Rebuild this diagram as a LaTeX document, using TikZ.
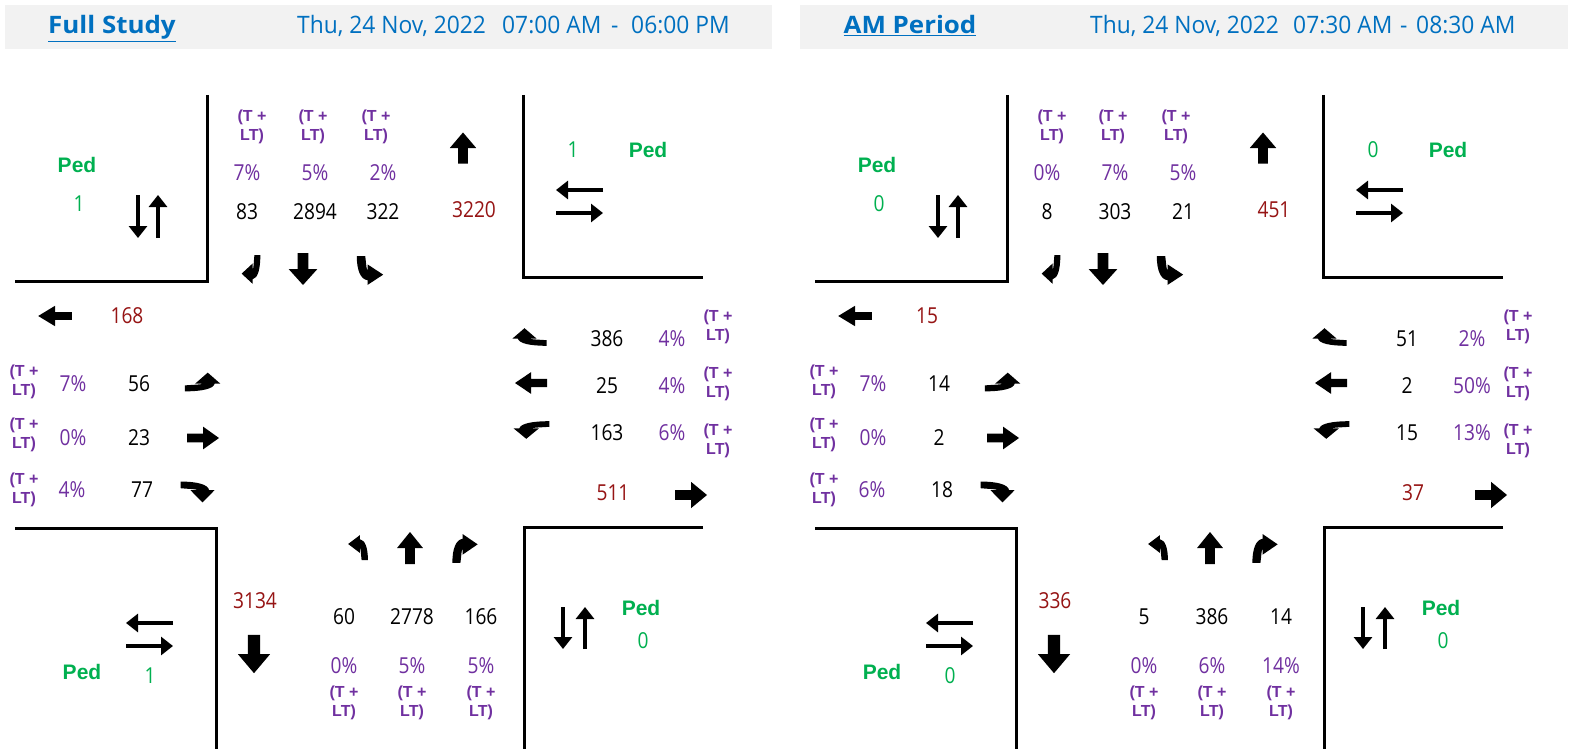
\documentclass[tikz,border=0pt]{standalone}
\usepackage{fontspec}
\setmainfont{Open Sans}
\newfontfamily\numf[FakeStretch=0.87]{Open Sans}
\newfontfamily\hdrf[FakeStretch=0.95]{Open Sans}
\newfontfamily\titf[FakeStretch=1.08]{Open Sans}
\newfontfamily\arf{Liberation Sans}
\usetikzlibrary{arrows.meta}
\definecolor{purp}{RGB}{112,48,160}
\definecolor{dred}{RGB}{150,20,20}
\definecolor{pgreen}{RGB}{0,176,80}
\definecolor{hblue}{RGB}{0,112,192}
\definecolor{hdrgray}{RGB}{242,242,242}
\tikzset{
 num/.style={font=\numf\fontsize{22}{26}\selectfont, inner sep=0pt},
 pct/.style={num, text=purp},
 tot/.style={num, text=dred},
 tlt/.style={font=\arf\bfseries\fontsize{16}{19}\selectfont, text=purp, align=center, inner sep=0pt},
 pedl/.style={font=\arf\bfseries\fontsize{21}{24}\selectfont, text=pgreen, inner sep=0pt},
 pedn/.style={num, text=pgreen},
 curb/.style={line width=3pt},
 pedarr/.style={line width=4pt, -{Triangle[length=12pt,width=18pt]}},
 hdrtitle/.style={font=\titf\bfseries\fontsize{24}{28}\selectfont, text=hblue, inner sep=0pt, anchor=base},
 hdrdate/.style={font=\hdrf\fontsize{24}{28}\selectfont, text=hblue, inner sep=0pt, anchor=base west},
 sarrow/.pic={\fill (-16,-4.5) -- (0,-4.5) -- (0,-12) -- (16,0) -- (0,12) -- (0,4.5) -- (-16,4.5) -- cycle;},
 rturn/.pic={\fill (-11,15) .. controls (-11,0) and (-8,-10) .. (-2,-11) -- (-2,-16) -- (11,-5) -- (-2,6) -- (-2,0) .. controls (-3,0) and (-3,5) .. (-4,15) -- cycle;},
 lturn/.pic={\fill[xscale=-1] (-11,15) .. controls (-11,0) and (-8,-10) .. (-2,-11) -- (-2,-16) -- (11,-5) -- (-2,6) -- (-2,0) .. controls (-3,0) and (-3,5) .. (-4,15) -- cycle;},
}
\newcommand\drawpanel[2]{%
\begin{scope}[xshift=#1pt]
 % curbs
 \draw[curb] (207,95) -- (207,281.5) -- (15,281.5);
 \draw[curb] (523,95) -- (523,277.5) -- (703,277.5);
 \draw[curb] (15,528) -- (216,528) -- (216,749);
 \draw[curb] (703,527) -- (524,527) -- (524,749);
 % pedestrians
 \node[pedl] (#2-pedtl) at (77,165) {Ped};
 \node[pedn] (#2-pedtlv) at (79,204) {\datPedTL};
 \node[pedn] (#2-pedtrv) at (573,150) {\datPedTR};
 \node[pedl] (#2-pedtr) at (648,150) {Ped};
 \node[pedl] (#2-pedbl) at (82,672) {Ped};
 \node[pedn] (#2-pedblv) at (150,676) {\datPedBL};
 \node[pedl] (#2-pedbr) at (641,608) {Ped};
 \node[pedn] (#2-pedbrv) at (643,641) {\datPedBR};
 \draw[pedarr] (138,195) -- (138,238);
 \draw[pedarr] (158,238) -- (158,195);
 \draw[pedarr] (603,190) -- (556,190);
 \draw[pedarr] (556,213) -- (603,213);
 \draw[pedarr] (173,623) -- (126,623);
 \draw[pedarr] (126,646) -- (173,646);
 \draw[pedarr] (563,607) -- (563,649);
 \draw[pedarr] (585,649) -- (585,607);
 % north
 \node[tlt] (#2-ntl1) at (252,127) {(T +\\LT)};
 \node[tlt] (#2-ntl2) at (313,127) {(T +\\LT)};
 \node[tlt] (#2-ntl3) at (376,127) {(T +\\LT)};
 \node[pct] (#2-np1) at (247,173) {\datNpA\%};
 \node[pct] (#2-np2) at (315,173) {\datNpB\%};
 \node[pct] (#2-np3) at (383,173) {\datNpC\%};
 \node[num] (#2-nn1) at (247,212) {\datNnA};
 \node[num] (#2-nn2) at (315,212) {\datNnB};
 \node[num] (#2-nn3) at (383,212) {\datNnC};
 \node[tot] (#2-ntot) at (474,210) {\datNtot};
 \pic[rotate=90, xscale=0.97, yscale=1.1] at (463,148) {sarrow};
 \pic[rotate=180, xscale=0.85, yscale=0.93] at (251,269) {rturn};
 \pic[rotate=-90, yscale=1.2] at (303,269) {sarrow};
 \pic[rotate=180, xscale=1.2, yscale=0.93] at (370,270) {lturn};
 % west
 \node[tot] (#2-wtot) at (127,316) {\datWtot};
 \pic[rotate=180, xscale=1.05, yscale=0.85] at (55,316) {sarrow};
 \node[tlt] (#2-wtl1) at (24,382) {(T +\\LT)};
 \node[tlt] (#2-wtl2) at (24,435) {(T +\\LT)};
 \node[tlt] (#2-wtl3) at (24,490) {(T +\\LT)};
 \node[pct] (#2-wp1) at (73,384) {\datWpA\%};
 \node[pct] (#2-wp2) at (73,438) {\datWpB\%};
 \node[pct] (#2-wp3) at (72,490) {\datWpC\%};
 \node[num] (#2-wn1) at (139,384) {\datWnA};
 \node[num] (#2-wn2) at (139,438) {\datWnB};
 \node[num] (#2-wn3) at (142,490) {\datWnC};
 \pic[rotate=-90, xscale=0.85, yscale=1.15] at (202,382) {lturn};
 \pic[yscale=0.95] at (203,438) {sarrow};
 \pic[rotate=-90, xscale=0.95, yscale=1.1] at (197,492) {rturn};
 % east
 \pic[rotate=90, xscale=0.8, yscale=1.1] at (530,337) {rturn};
 \pic[rotate=180, yscale=0.9] at (531,383) {sarrow};
 \pic[rotate=90, xscale=0.8, yscale=1.15] at (532,430) {lturn};
 \node[num] (#2-en1) at (607,339) {\datEnA};
 \node[num] (#2-en2) at (607,386) {\datEnB};
 \node[num] (#2-en3) at (607,433) {\datEnC};
 \node[pct] (#2-ep1) at (672,339) {\datEpA\%};
 \node[pct] (#2-ep2) at (672,386) {\datEpB\%};
 \node[pct] (#2-ep3) at (672,433) {\datEpC\%};
 \node[tlt] (#2-etl1) at (718,327) {(T +\\LT)};
 \node[tlt] (#2-etl2) at (718,384) {(T +\\LT)};
 \node[tlt] (#2-etl3) at (718,441) {(T +\\LT)};
 \node[tot] (#2-etot) at (613,493) {\datEtot};
 \pic[yscale=1.1] at (691,495) {sarrow};
 % south
 \pic[xscale=0.9, yscale=0.8] at (358,548) {lturn};
 \pic[rotate=90, yscale=1.08] at (410,548) {sarrow};
 \pic[xscale=1.15, yscale=0.93] at (465,549) {rturn};
 \node[tot] (#2-stot) at (255,601) {\datStot};
 \pic[rotate=-90, xscale=1.2, yscale=1.35] at (254,654) {sarrow};
 \node[num] (#2-sn1) at (344,617) {\datSnA};
 \node[num] (#2-sn2) at (412,617) {\datSnB};
 \node[num] (#2-sn3) at (481,617) {\datSnC};
 \node[pct] (#2-sp1) at (344,666) {\datSpA\%};
 \node[pct] (#2-sp2) at (412,666) {\datSpB\%};
 \node[pct] (#2-sp3) at (481,666) {\datSpC\%};
 \node[tlt] (#2-stl1) at (344,703) {(T +\\LT)};
 \node[tlt] (#2-stl2) at (412,703) {(T +\\LT)};
 \node[tlt] (#2-stl3) at (481,703) {(T +\\LT)};
\end{scope}}
\begin{document}
\begin{tikzpicture}[x=1pt,y=-1pt]
\useasboundingbox (0,0) rectangle (1576,749);
\fill[white] (0,0) rectangle (1576,749);
% headers
\fill[hdrgray] (5,5) rectangle (772,49);
\fill[hdrgray] (800,5) rectangle (1568,49);
\node[hdrtitle] (t1) at (112,34) {\underline{Full Study}};
\node[hdrdate] (d1) at (297,34) {Thu, 24 Nov, 2022};
\node[hdrdate] (d1b) at (502,34) {07:00 AM};
\node[hdrdate] (s1) at (611,34) {-};
\node[hdrdate] (e1) at (631,34) {06:00 PM};
\node[hdrtitle] (t2) at (910,34) {\underline{AM Period}};
\node[hdrdate] (d2) at (1090,34) {Thu, 24 Nov, 2022};
\node[hdrdate] (d2b) at (1293,34) {07:30 AM};
\node[hdrdate] (s2) at (1400,34) {-};
\node[hdrdate] (e2) at (1416,34) {08:30 AM};
% left panel
\def\datPedTL{1}\def\datPedTR{1}\def\datPedBL{1}\def\datPedBR{0}
\def\datNtot{3220}\def\datNpA{7}\def\datNpB{5}\def\datNpC{2}\def\datNnA{83}\def\datNnB{2894}\def\datNnC{322}
\def\datWtot{168}\def\datWpA{7}\def\datWpB{0}\def\datWpC{4}\def\datWnA{56}\def\datWnB{23}\def\datWnC{77}
\def\datEtot{511}\def\datEpA{4}\def\datEpB{4}\def\datEpC{6}\def\datEnA{386}\def\datEnB{25}\def\datEnC{163}
\def\datStot{3134}\def\datSpA{0}\def\datSpB{5}\def\datSpC{5}\def\datSnA{60}\def\datSnB{2778}\def\datSnC{166}
\drawpanel{0}{L}
% right panel
\def\datPedTL{0}\def\datPedTR{0}\def\datPedBL{0}\def\datPedBR{0}
\def\datNtot{451}\def\datNpA{0}\def\datNpB{7}\def\datNpC{5}\def\datNnA{8}\def\datNnB{303}\def\datNnC{21}
\def\datWtot{15}\def\datWpA{7}\def\datWpB{0}\def\datWpC{6}\def\datWnA{14}\def\datWnB{2}\def\datWnC{18}
\def\datEtot{37}\def\datEpA{2}\def\datEpB{50}\def\datEpC{13}\def\datEnA{51}\def\datEnB{2}\def\datEnC{15}
\def\datStot{336}\def\datSpA{0}\def\datSpB{6}\def\datSpC{14}\def\datSnA{5}\def\datSnB{386}\def\datSnC{14}
\drawpanel{800}{R}
\end{tikzpicture}
\end{document}
